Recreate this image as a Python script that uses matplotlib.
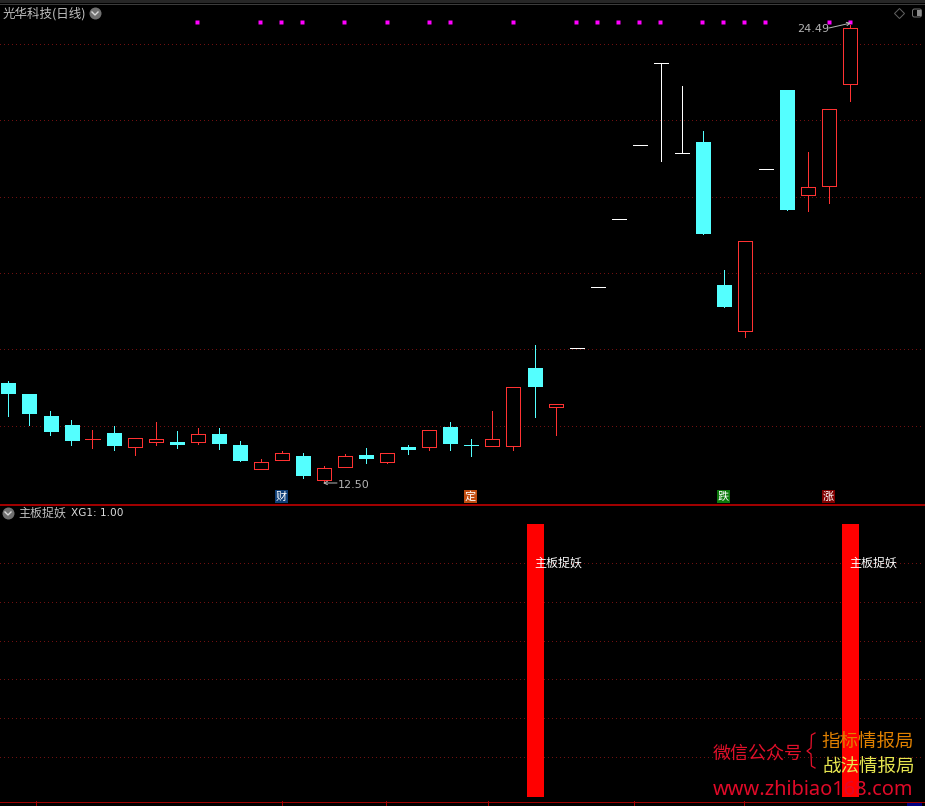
import matplotlib.pyplot as plt
from matplotlib.patches import FancyBboxPatch, Rectangle

plt.rcParams["font.family"] = ["Noto Sans CJK SC", "DejaVu Sans"]

# K-line data, one entry per trading day (r = up, c = down, w = flat limit day)
kinds = list("cccc" "rcrr" "crcc" "rrcr" "rcrc" "rccr" "rcrw" "wwww" "wccr" "wcrr" "r")
opens = [15.12, 14.83, 14.25, 14.02, 13.66, 13.81, 13.44, 13.58, 13.57, 13.58, 13.78, 13.49,
         12.87, 13.11, 13.21, 12.59, 12.93, 13.23, 13.06, 13.44, 13.45, 13.97, 13.49, 13.48,
         13.48, 15.51, 14.50, 16.03, 17.62, 19.40, 21.34, 23.49, 21.13, 21.43, 17.68, 16.49,
         20.71, 22.79, 20.05, 20.28, 22.95]
closes = [14.83, 14.31, 13.84, 13.60, 13.66, 13.47, 13.68, 13.64, 13.49, 13.78, 13.52, 13.08,
          13.04, 13.28, 12.68, 12.88, 13.20, 13.13, 13.28, 13.36, 13.88, 13.52, 13.49, 13.64,
          15.01, 15.01, 14.56, 16.03, 17.62, 19.40, 21.34, 23.49, 21.13, 19.02, 17.11, 18.83,
          20.71, 19.65, 20.24, 22.28, 24.40]
highs = [15.17, 14.83, 14.38, 14.15, 13.89, 13.99, 13.68, 14.10, 13.86, 13.94, 13.94, 13.60,
         13.13, 13.34, 13.29, 12.95, 13.26, 13.42, 13.28, 13.49, 13.88, 14.10, 13.65, 14.38,
         15.01, 16.11, 14.56, 16.03, 17.62, 19.40, 21.34, 23.49, 22.89, 21.72, 18.08, 18.83,
         20.71, 22.79, 21.17, 22.28, 24.49]
lows = [14.25, 14.02, 13.76, 13.49, 13.42, 13.36, 13.23, 13.49, 13.42, 13.52, 13.39, 13.08,
        12.87, 13.11, 12.63, 12.50, 12.93, 13.02, 13.02, 13.26, 13.36, 13.36, 13.21, 13.48,
        13.36, 14.23, 13.76, 16.03, 17.62, 19.40, 21.34, 20.94, 21.13, 19.02, 17.11, 16.33,
        20.71, 19.65, 19.63, 19.84, 22.51]

price_grid = [24, 22, 20, 18, 16, 14]
dot_days = [9, 12, 13, 14, 16, 18, 20, 21, 24, 27, 28, 29, 30, 31, 33, 34, 35, 36, 39, 40]
dot_level = 24.56

signal_days = [25, 40]
signal_values = [1.0, 1.0]
signal_grid = [0.856, 0.715, 0.573, 0.431, 0.289, 0.147]

UP_RED = "#ff3232"
DOWN_CYAN = "#54ffff"
GRID_RED = "#701010"
LABEL_GREY = "#c0c0c0"
PX = 0.72
X_LEFT = -0.3929
X_RIGHT = 43.5501
FILL_SHIFT = 0.03  # filled bodies sit a little right of the snapped wicks


def draw_candles(ax):
    for day, kind in enumerate(kinds):
        top = max(opens[day], closes[day])
        bottom = min(opens[day], closes[day])
        color = {"r": UP_RED, "c": DOWN_CYAN, "w": "white"}[kind]
        ax.vlines(day, lows[day], highs[day], color=color, lw=PX, antialiased=False, zorder=3)
        if top == bottom:
            ax.hlines(top, day - 0.335, day + 0.335, color=color, lw=PX, antialiased=False, zorder=4)
        elif kind == "c":
            ax.bar(day + FILL_SHIFT, top - bottom, 0.7126, bottom=bottom, color=color,
                   antialiased=False, zorder=4)
        else:
            ax.bar(day, top - bottom, 0.665, bottom=bottom, facecolor="black", edgecolor=color,
                   linewidth=PX, antialiased=False, zorder=4)


def draw_grid(ax, levels):
    for level in levels:
        ax.plot([X_LEFT, 43.4], [level, level], color=GRID_RED, lw=PX, ls=(0, (0.8, 3.2)),
                antialiased=False, zorder=1)


def draw_badge(ov, x, label, color):
    ov.add_patch(Rectangle((x, 490), 13, 13, facecolor=color, edgecolor="none"))
    ov.text(x + 6.5, 496.5, label, color="white", fontsize=8, ha="center", va="center")


def draw_chevron_icon(ov, x, y):
    ov.plot([x], [y], "o", ms=12 * PX, color="#707070", mec="none")
    ov.plot([x - 3, x, x + 3], [y - 1, y + 2, y - 1], color="#d8d8d8", lw=1.4 * PX)


def main():
    fig = plt.figure(figsize=(9.25, 8.06), dpi=100, facecolor="black")

    ax = fig.add_axes([0, 301 / 806, 1, 505 / 806])
    ax.set_axis_off()
    ax.set_xlim(X_LEFT, X_RIGHT)
    ax.set_ylim(11.924, 25.145)
    draw_grid(ax, price_grid)
    draw_candles(ax)
    ax.plot([d - 0.03 for d in dot_days], [dot_level] * len(dot_days), "s", ms=3.4 * PX,
            color="#ff00ff", mec="none", zorder=5)

    ax2 = fig.add_axes([0, 5 / 806, 1, 296 / 806])
    ax2.set_axis_off()
    ax2.set_xlim(X_LEFT, X_RIGHT)
    ax2.set_ylim(-0.0147, 1.0696)
    draw_grid(ax2, signal_grid)
    ax2.bar([d + FILL_SHIFT for d in signal_days], signal_values, 0.8, color="#ff0000",
            antialiased=False, zorder=2)
    for day in signal_days:
        ax2.text(day - 0.03, 0.856, "主板捉妖", color="white", fontsize=8.64, ha="left", va="center", zorder=3)

    # pixel-space layer for the terminal's labels, icons and watermark
    ov = fig.add_axes([0, 0, 1, 1])
    ov.set_axis_off()
    ov.patch.set_alpha(0)
    ov.set_xlim(0, 925)
    ov.set_ylim(806, 0)

    ov.add_patch(Rectangle((0, 0), 925, 2.5, facecolor="#262626", edgecolor="none"))
    ov.plot([0, 925], [3.5, 3.5], color="#3c3c3c", lw=PX)
    ov.plot([0, 925], [504.5, 504.5], color="#c80000", lw=1.6 * PX)
    ov.plot([0, 925], [801.5, 801.5], color="#a00000", lw=PX)
    for x in [36, 282, 386, 488, 634, 744]:
        ov.plot([x, x], [801, 805], color="#a00000", lw=PX)
    ov.add_patch(Rectangle((907, 802), 15, 4, facecolor="#000080", edgecolor="none"))

    ov.text(3, 14, "光华科技(日线)", color=LABEL_GREY, fontsize=9, ha="left", va="center")
    draw_chevron_icon(ov, 95, 13)
    draw_chevron_icon(ov, 8, 513)
    ov.text(18, 513, "主板捉妖", color=LABEL_GREY, fontsize=8.64, ha="left", va="center")
    ov.text(71, 513, "XG1: 1.00", color="#dcdcdc", fontsize=7.6, ha="left", va="center",
            family="DejaVu Sans")

    ov.plot([898.5], [13], "D", ms=7 * PX, mfc="none", mec="#606060", mew=PX)
    ov.add_patch(FancyBboxPatch((912.5, 9), 9, 8, boxstyle="round,pad=0,rounding_size=2",
                                facecolor="black", edgecolor="#707070", lw=PX))
    ov.add_patch(Rectangle((917, 10), 3.5, 6, facecolor="#8a8a8a", edgecolor="none"))

    ov.text(338, 484.5, "12.50", color="#b4b4b4", fontsize=8, ha="left", va="center", family="DejaVu Sans")
    ov.annotate("", xy=(323, 483), xytext=(337, 483),
                arrowprops=dict(arrowstyle="->", color="#b4b4b4", lw=PX, mutation_scale=6,
                                shrinkA=0, shrinkB=0))
    ov.text(797, 29.5, "24.49", color="#b4b4b4", fontsize=8, ha="left", va="center", family="DejaVu Sans")
    ov.annotate("", xy=(851, 23), xytext=(829, 28),
                arrowprops=dict(arrowstyle="->", color="#b4b4b4", lw=PX, mutation_scale=6,
                                shrinkA=0, shrinkB=0))

    draw_badge(ov, 275, "财", "#0f3f78")
    draw_badge(ov, 464, "定", "#c04c10")
    draw_badge(ov, 717, "跌", "#0c7a0c")
    draw_badge(ov, 822, "涨", "#800000")

    ov.text(713, 753.5, "微信公众号", color="#e0102a", fontsize=13, ha="left", va="center")
    ov.plot([815, 811.5, 811, 807, 811, 811.5, 815], [733, 735, 748, 751, 754, 766, 768],
            color="#e0102a", lw=1.3 * PX)
    ov.text(821, 742.5, "指标情报局", color="#e08000", fontsize=13.3, ha="left", va="center")
    ov.text(822, 768, "战法情报局", color="#e6e650", fontsize=13.3, ha="left", va="center")
    ov.text(713, 790, "www.zhibiao168.com", color="#e00a28", fontsize=14.4, ha="left", va="center",
            family="Noto Sans")

    fig.savefig("out.png", dpi=100, facecolor="black")


if __name__ == "__main__":
    main()
